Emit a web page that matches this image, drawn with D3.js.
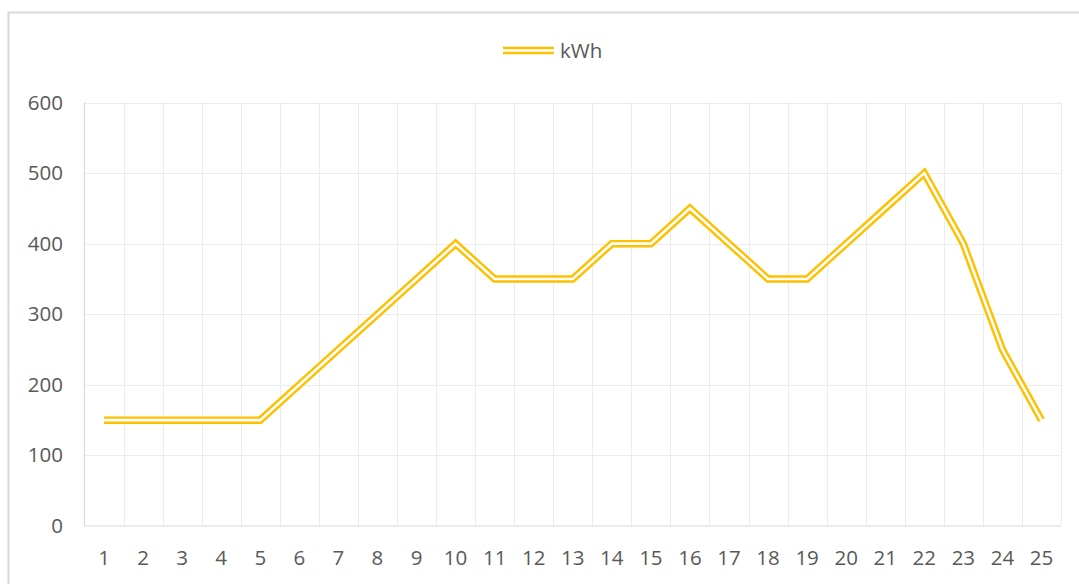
<!DOCTYPE html>
<html>
<head>
<meta charset="utf-8">
<script src="https://cdn.jsdelivr.net/npm/d3@7"></script>
<style>
  html, body { margin: 0; padding: 0; background: #fff; }
  svg { display: block; }
  text { font-family: "Open Sans", "Lato", sans-serif; fill: #595959; }
</style>
</head>
<body>
<svg id="chart" width="1079" height="584"></svg>
<script>
// Energy use per period
const categories = d3.range(1, 26).map(String);
const kwh = [150, 150, 150, 150, 150, 200, 250, 300, 350, 400, 350, 350, 350,
             400, 400, 450, 400, 350, 350, 400, 450, 500, 400, 250, 150];
const yTicks = [0, 100, 200, 300, 400, 500, 600];
const seriesName = "kWh";

const W = 1079, H = 584;
const plot = { left: 84.5, right: 1061, top: 102.5, bottom: 526 };
const lineColor = "#FFC000";
const fontSize = 20.5;

const svg = d3.select("#chart");

// outer chart frame
svg.append("rect")
  .attr("x", 8.5).attr("y", 12.5)
  .attr("width", W + 10).attr("height", H + 10)
  .attr("fill", "#fff").attr("stroke", "#d9d9d9").attr("stroke-width", 2);

const x = d3.scaleBand().domain(categories).range([plot.left, plot.right]).padding(0);
const y = d3.scaleLinear().domain([0, 600]).range([plot.bottom, plot.top]);

// horizontal gridlines
svg.append("g")
  .selectAll("line").data(yTicks.filter(d => d > 0)).join("line")
  .attr("x1", plot.left).attr("x2", plot.right)
  .attr("y1", d => Math.round(y(d)) + 0.5).attr("y2", d => Math.round(y(d)) + 0.5)
  .attr("stroke", "#ececec").attr("stroke-width", 1);

// vertical gridlines at category boundaries
const bounds = categories.slice(1).map(c => x(c)).concat([plot.right]);
svg.append("g")
  .selectAll("line").data(bounds).join("line")
  .attr("x1", d => Math.round(d) + 0.5).attr("x2", d => Math.round(d) + 0.5)
  .attr("y1", plot.top).attr("y2", plot.bottom)
  .attr("stroke", "#ececec").attr("stroke-width", 1);

// axis lines
svg.append("line")
  .attr("x1", plot.left).attr("x2", plot.left)
  .attr("y1", plot.top).attr("y2", plot.bottom)
  .attr("stroke", "#d9d9d9").attr("stroke-width", 1.2);
svg.append("line")
  .attr("x1", plot.left).attr("x2", plot.right)
  .attr("y1", plot.bottom).attr("y2", plot.bottom)
  .attr("stroke", "#d9d9d9").attr("stroke-width", 1.2);

// y axis labels
const yAxis = d3.axisLeft(y).tickValues(yTicks).tickSize(0).tickPadding(0);
const gy = svg.append("g").attr("transform", `translate(${63},0)`).call(yAxis);
gy.select(".domain").remove();
gy.selectAll("text").attr("font-size", fontSize).attr("fill", "#595959")
  .style("font-family", '"Open Sans", sans-serif');

// x axis labels
const xAxis = d3.axisBottom(x).tickSize(0).tickPadding(0);
const gx = svg.append("g").attr("transform", `translate(0,${550.5})`).call(xAxis);
gx.select(".domain").remove();
gx.selectAll("text").attr("font-size", fontSize).attr("fill", "#595959")
  .style("font-family", '"Open Sans", sans-serif');

// double (compound) line
const line = d3.line()
  .x((d, i) => x(categories[i]) + x.bandwidth() / 2)
  .y(d => y(d));

svg.append("path").datum(kwh)
  .attr("d", line).attr("fill", "none")
  .attr("stroke", lineColor).attr("stroke-width", 7.5)
  .attr("stroke-linejoin", "miter").attr("stroke-linecap", "butt");
svg.append("path").datum(kwh)
  .attr("d", line).attr("fill", "none")
  .attr("stroke", "#fff").attr("stroke-width", 2.6)
  .attr("stroke-linejoin", "miter").attr("stroke-linecap", "butt");

// legend
const lg = svg.append("g").attr("transform", "translate(503,50.5)");
lg.append("line").attr("x1", 0).attr("x2", 51).attr("y1", 0).attr("y2", 0)
  .attr("stroke", lineColor).attr("stroke-width", 7.5);
lg.append("line").attr("x1", 0).attr("x2", 51).attr("y1", 0).attr("y2", 0)
  .attr("stroke", "#fff").attr("stroke-width", 2.6);
lg.append("text").attr("x", 57).attr("y", 0).attr("dy", "0.35em")
  .attr("font-size", fontSize).text(seriesName);
</script>
</body>
</html>
